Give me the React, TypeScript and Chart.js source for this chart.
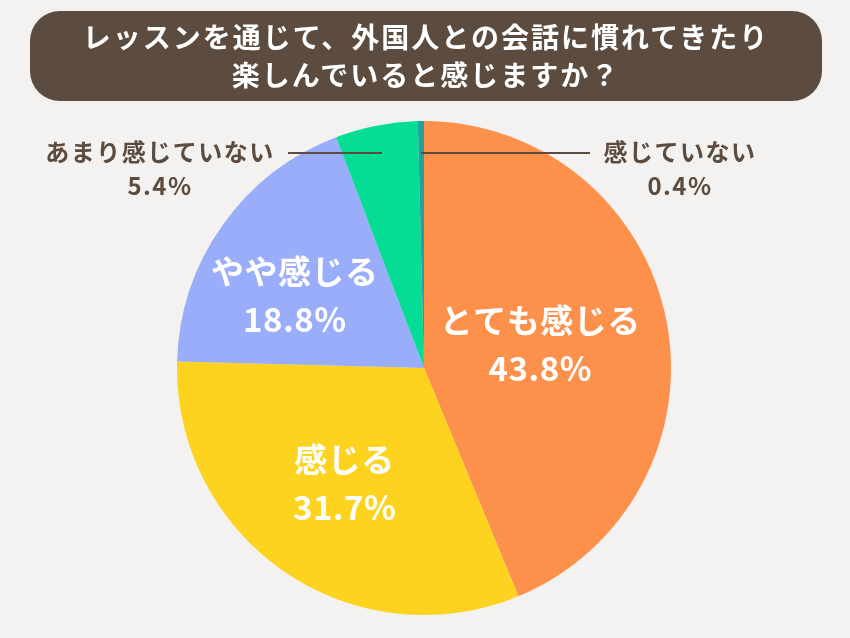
import { useEffect, useRef } from 'react';
import { Chart, registerables } from 'chart.js';

Chart.register(...registerables);

const titleLines = ['レッスンを通じて、外国人との会話に慣れてきたり', '楽しんでいると感じますか？'];
const categories = ['とても感じる', '感じる', 'やや感じる', 'あまり感じていない', '感じていない'];
const shares = [43.8, 31.7, 18.8, 5.4, 0.4];
const sliceColors = ['#FD914C', '#FDD31F', '#99ADFB', '#05DD95', '#1FA39B'];

const FONT = '"Noto Sans CJK JP", "Noto Sans", sans-serif';
const BROWN = '#5C4B3F';

// inside label: radius fraction + angle nudge (deg) per slice; the rest get a leader line
const insidePos: Record<number, [number, number]> = { 0: [0.48, 0], 1: [0.567, 0], 2: [0.6, -6] };

const labelPlugin = {
  id: 'sliceLabels',
  afterDraw(chart: Chart) {
    const ctx = chart.ctx;
    const meta = chart.getDatasetMeta(0);
    ctx.save();
    ctx.textAlign = 'center';
    ctx.textBaseline = 'middle';
    meta.data.forEach((el: any, i) => {
      const { x, y, startAngle, endAngle, outerRadius } = el.getProps(['x', 'y', 'startAngle', 'endAngle', 'outerRadius'], true);
      const txt = shares[i].toFixed(1) + '%';
      const pos = insidePos[i];
      if (pos) {
        const a = (startAngle + endAngle) / 2 + (pos[1] * Math.PI) / 180;
        const r = outerRadius * pos[0];
        const px = x + Math.cos(a) * r;
        const py = y + Math.sin(a) * r;
        ctx.fillStyle = '#ffffff';
        ctx.font = `bold 33px ${FONT}`;
        (ctx as any).letterSpacing = '0.5px';
        ctx.fillText(categories[i], px, py - 24);
        ctx.fillText(txt, px, py + 24);
      } else {
        const ly = y - outerRadius * 0.87;
        const left = i === 3;
        ctx.strokeStyle = BROWN;
        ctx.lineWidth = 2;
        ctx.beginPath();
        if (left) { ctx.moveTo(x - 136, ly); ctx.lineTo(x - 42, ly); }
        else { ctx.moveTo(x - 3, ly); ctx.lineTo(x + 166, ly); }
        ctx.stroke();
        const tx = left ? x - 264 : x + 256;
        ctx.fillStyle = BROWN;
        ctx.font = `bold 24px ${FONT}`;
        (ctx as any).letterSpacing = '1.5px';
        ctx.fillText(categories[i], tx, ly - 1);
        ctx.fillText(txt, tx, ly + 33);
      }
      (ctx as any).letterSpacing = '0px';
    });
    ctx.restore();
  },
};

export default function App() {
  const canvasRef = useRef<HTMLCanvasElement>(null);

  useEffect(() => {
    document.body.style.margin = '0';
    document.body.style.background = '#F3F2F0';
    if (!canvasRef.current) return;
    const chart = new Chart(canvasRef.current, {
      type: 'pie',
      data: {
        labels: categories,
        datasets: [{ data: shares, backgroundColor: sliceColors, borderWidth: 0 }],
      },
      options: {
        animation: false,
        responsive: false,
        layout: { padding: { top: 121, bottom: 23, left: 177, right: 179 } },
        plugins: { legend: { display: false }, tooltip: { enabled: false } },
      },
      plugins: [labelPlugin],
    });
    return () => chart.destroy();
  }, []);

  return (
    <div style={{ position: 'relative', width: 850, height: 638, background: '#F3F2F0', overflow: 'hidden' }}>
      <canvas ref={canvasRef} width={850} height={638} style={{ position: 'absolute', left: 0, top: 0 }} />
      <div style={{
        position: 'absolute', left: 30, top: 11, width: 792, height: 90, background: BROWN, borderRadius: 30,
        color: '#fff', fontFamily: FONT, fontWeight: 700, fontSize: 28, letterSpacing: 2, lineHeight: '38px',
        display: 'flex', flexDirection: 'column', justifyContent: 'center', alignItems: 'center', paddingBottom: 2, boxSizing: 'border-box',
      }}>
        {titleLines.map((l, i) => <div key={i}>{l}</div>)}
      </div>
    </div>
  );
}
